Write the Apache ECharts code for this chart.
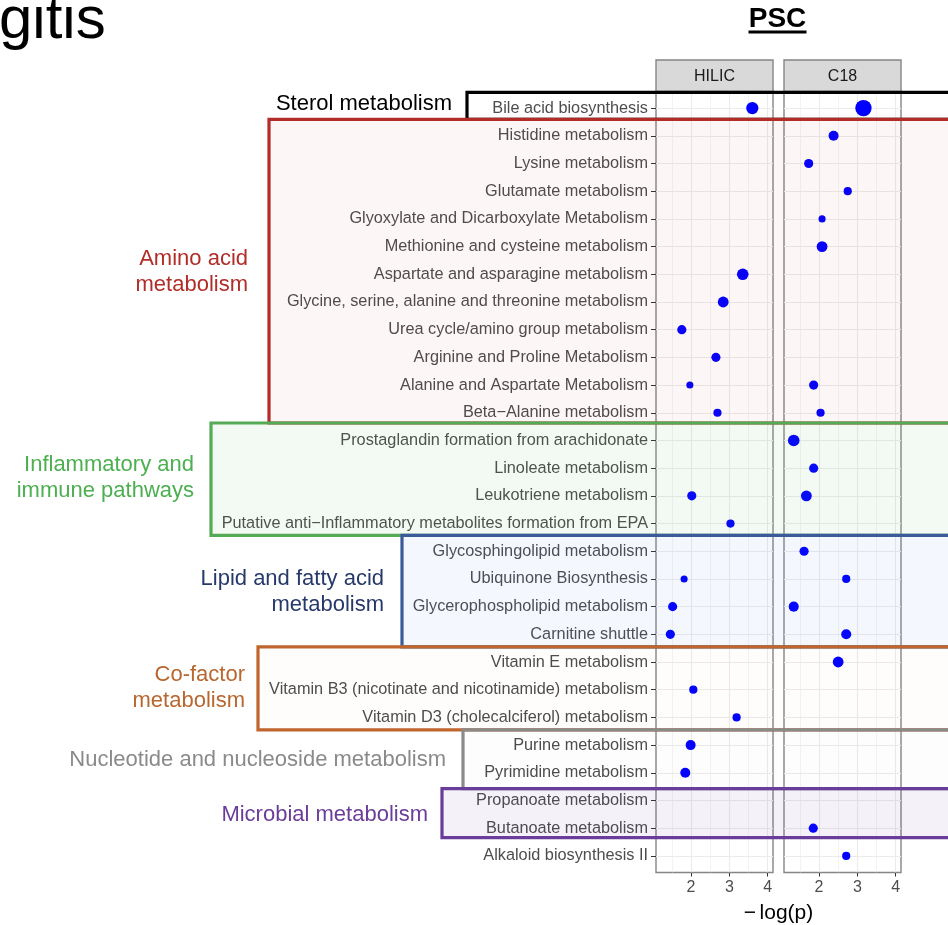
<!DOCTYPE html>
<html><head><meta charset="utf-8">
<script src="https://cdn.jsdelivr.net/npm/echarts@6/dist/echarts.min.js"></script>
<style>html,body{margin:0;padding:0;background:#fff}#c{width:948px;height:925px}</style>
</head><body><div id="c"></div>
<script>
// ---------------- data ----------------
const pathways = [
  'Bile acid biosynthesis',
  'Histidine metabolism',
  'Lysine metabolism',
  'Glutamate metabolism',
  'Glyoxylate and Dicarboxylate Metabolism',
  'Methionine and cysteine metabolism',
  'Aspartate and asparagine metabolism',
  'Glycine, serine, alanine and threonine metabolism',
  'Urea cycle/amino group metabolism',
  'Arginine and Proline Metabolism',
  'Alanine and Aspartate Metabolism',
  'Beta\u2212Alanine metabolism',
  'Prostaglandin formation from arachidonate',
  'Linoleate metabolism',
  'Leukotriene metabolism',
  'Putative anti\u2212Inflammatory metabolites formation from EPA',
  'Glycosphingolipid metabolism',
  'Ubiquinone Biosynthesis',
  'Glycerophospholipid metabolism',
  'Carnitine shuttle',
  'Vitamin E metabolism',
  'Vitamin B3 (nicotinate and nicotinamide) metabolism',
  'Vitamin D3 (cholecalciferol) metabolism',
  'Purine metabolism',
  'Pyrimidine metabolism',
  'Propanoate metabolism',
  'Butanoate metabolism',
  'Alkaloid biosynthesis II'
];
const hilicLogP = [3.60,null,null,null,null,null,3.35,2.84,1.76,2.65,1.97,2.69,null,null,2.02,3.03,null,1.82,1.52,1.46,null,2.06,3.19,1.99,1.85,null,null,null];
const hilicHits = [9,null,null,null,null,null,8,7,5,5,3,4,null,null,5,4,null,3,5,5,null,4,4,6,6,null,null,null];
const c18LogP   = [3.16,2.38,1.73,2.75,2.08,2.08,null,null,null,null,1.86,2.04,1.34,1.86,1.67,null,1.61,2.71,1.34,2.71,2.50,null,null,null,null,null,1.85,2.71];
const c18Hits   = [16,6,5,4,3,7,null,null,null,null,5,4,8,5,7,null,5,4,6,6,7,null,null,null,null,null,5,4];
const panelNames = ['HILIC','C18'];
const xTicks = [2,3,4];
const xMinor = [1.5,2.5,3.5];
const groupNames = ['Sterol metabolism','Amino acid\nmetabolism','Inflammatory and\nimmune pathways','Lipid and fatty acid\nmetabolism','Co-factor\nmetabolism','Nucleotide and nucleoside metabolism','Microbial metabolism'];
const titleText = 'PSC';
const xTitle = '\u2212\u2006log(p)';
const topLeftText = 'gitis';

// ---------------- layout / style ----------------
const FONT = '"Liberation Sans", Arial, Helvetica, sans-serif';
const XMIN = 1.086, XMAX = 4.14;
const YMIN = 0.4, YMAX = pathways.length + 0.6;
const GL = [656, 784], GW = 117, GT = 91.5, GH = 781;
const rows = pathways.map((_, i) => i + 1);
const boxStyle = [
  {color:'#000000', text:'#000000', fill:'rgba(0,0,0,0)',            left:467, top:0.433, bottom:1.408, labelRight:452, labelRow:0.86},
  {color:'#b22d28', text:'#b22d28', fill:'rgba(178,45,40,0.045)',    left:269, top:1.408, bottom:12.37, labelRight:248, labelRow:6.92},
  {color:'#55aa55', text:'#4caf50', fill:'rgba(85,170,85,0.07)',     left:211, top:12.37, bottom:16.43, labelRight:194, labelRow:14.36},
  {color:'#3b5a9a', text:'#27396b', fill:'rgba(70,125,215,0.06)',    left:402, top:16.43, bottom:20.45, labelRight:384, labelRow:18.47},
  {color:'#c0652c', text:'#b9662f', fill:'rgba(192,101,44,0.015)',   left:258, top:20.45, bottom:23.45, labelRight:245, labelRow:21.94},
  {color:'#8a8a8a', text:'#8a8a8a', fill:'rgba(138,138,138,0.015)',  left:463, top:23.45, bottom:25.57, labelRight:446, labelRow:24.54},
  {color:'#6b3d9a', text:'#6b3d9a', fill:'rgba(107,61,154,0.07)',    left:442, top:25.57, bottom:27.34, labelRight:428, labelRow:26.52}
];

function pts(vals, hits) {
  const out = [];
  vals.forEach((v, i) => { if (v != null) out.push([v, i + 1, hits[i]]); });
  return out;
}
const gridLineData = rows.map(r => ({yAxis: r}))
  .concat(xTicks.map(x => ({xAxis: x})))
  .concat(xMinor.map(x => ({xAxis: x, lineStyle: {width: 0.6}})));

const chart = echarts.init(document.getElementById('c'), null, {renderer: 'canvas'});
const option = {
  animation: false,
  backgroundColor: '#ffffff',
  grid: GL.map(l => ({left: l, top: GT, width: GW, height: GH, show: true, borderColor: '#858585', borderWidth: 1.4, backgroundColor: '#ffffff', containLabel: false})),
  xAxis: GL.map((_, g) => ({
    type: 'value', gridIndex: g, min: XMIN, max: XMAX,
    splitLine: {show: false}, axisLine: {show: false},
    axisTick: {show: true, customValues: xTicks, length: 4, lineStyle: {color: '#333333', width: 1}},
    axisLabel: {show: true, customValues: xTicks, color: '#4d4d4d', fontSize: 16, fontFamily: FONT, margin: 7}
  })),
  yAxis: GL.map((_, g) => ({
    type: 'value', gridIndex: g, inverse: true, min: YMIN, max: YMAX,
    splitLine: {show: false}, axisLine: {show: false},
    axisTick: {show: g === 0, customValues: rows, length: 5, lineStyle: {color: '#333333', width: 1}},
    axisLabel: {show: g === 0, customValues: rows, formatter: v => pathways[Math.round(v) - 1], color: '#4d4d4d', fontSize: 16.3, fontFamily: FONT, margin: 8}
  })),
  series: [
    {type: 'scatter', xAxisIndex: 0, yAxisIndex: 0, data: [], silent: true,
     markLine: {silent: true, symbol: ['none','none'], label: {show: false}, z: 1, animation: false,
       lineStyle: {color: '#ebebeb', width: 1.1, type: 'solid'}, data: gridLineData}},
    {type: 'scatter', xAxisIndex: 1, yAxisIndex: 1, data: [], silent: true,
     markLine: {silent: true, symbol: ['none','none'], label: {show: false}, z: 1, animation: false,
       lineStyle: {color: '#ebebeb', width: 1.1, type: 'solid'}, data: gridLineData}},
    {type: 'scatter', name: panelNames[0], xAxisIndex: 0, yAxisIndex: 0, z: 20,
     data: pts(hilicLogP, hilicHits), symbolSize: d => 4.1 * Math.sqrt(d[2]),
     itemStyle: {color: '#0000ff', opacity: 1}},
    {type: 'scatter', name: panelNames[1], xAxisIndex: 1, yAxisIndex: 1, z: 20,
     data: pts(c18LogP, c18Hits), symbolSize: d => 4.1 * Math.sqrt(d[2]),
     itemStyle: {color: '#0000ff', opacity: 1}}
  ]
};
chart.setOption(option);

// ---------------- annotations ----------------
const py = r => chart.convertToPixel({yAxisIndex: 0}, r);
const g = [];
g.push({type: 'text', x: -1, y: 21, z: 50, style: {text: topLeftText, font: '60px ' + FONT, fill: '#000', align: 'left', verticalAlign: 'middle'}});
const midX = (GL[0] + GL[1] + GW) / 2;
g.push({type: 'text', x: midX - 1, y: 19, z: 50, style: {text: titleText, font: 'bold 28px ' + FONT, fill: '#000', align: 'center', verticalAlign: 'middle'}});
g.push({type: 'rect', z: 50, shape: {x: midX - 30, y: 30.5, width: 58, height: 3}, style: {fill: '#000'}});
GL.forEach((l, i) => {
  g.push({type: 'rect', z: 5, shape: {x: l, y: 60, width: GW, height: GT - 60}, style: {fill: '#d9d9d9', stroke: '#858585', lineWidth: 1.4}});
  g.push({type: 'text', z: 6, x: l + GW / 2, y: (60 + GT) / 2 + 1, style: {text: panelNames[i], font: '16px ' + FONT, fill: '#1a1a1a', align: 'center', verticalAlign: 'middle'}});
});
g.push({type: 'text', z: 50, x: midX, y: 913, style: {text: xTitle, font: '21px ' + FONT, fill: '#000', align: 'center', verticalAlign: 'middle'}});
boxStyle.forEach((b, i) => {
  const y0 = py(b.top), y1 = py(b.bottom);
  g.push({type: 'rect', z: 30 + i, silent: true, shape: {x: b.left, y: y0, width: 980 - b.left, height: y1 - y0},
    style: {fill: b.fill, stroke: b.color, lineWidth: 3.2}});
  g.push({type: 'text', z: 40, x: b.labelRight, y: py(b.labelRow), style: {text: groupNames[i], font: '22px ' + FONT, lineHeight: 26, fill: b.text, align: 'right', verticalAlign: 'middle'}});
});
chart.setOption({graphic: {elements: g}});
</script>
</body></html>
